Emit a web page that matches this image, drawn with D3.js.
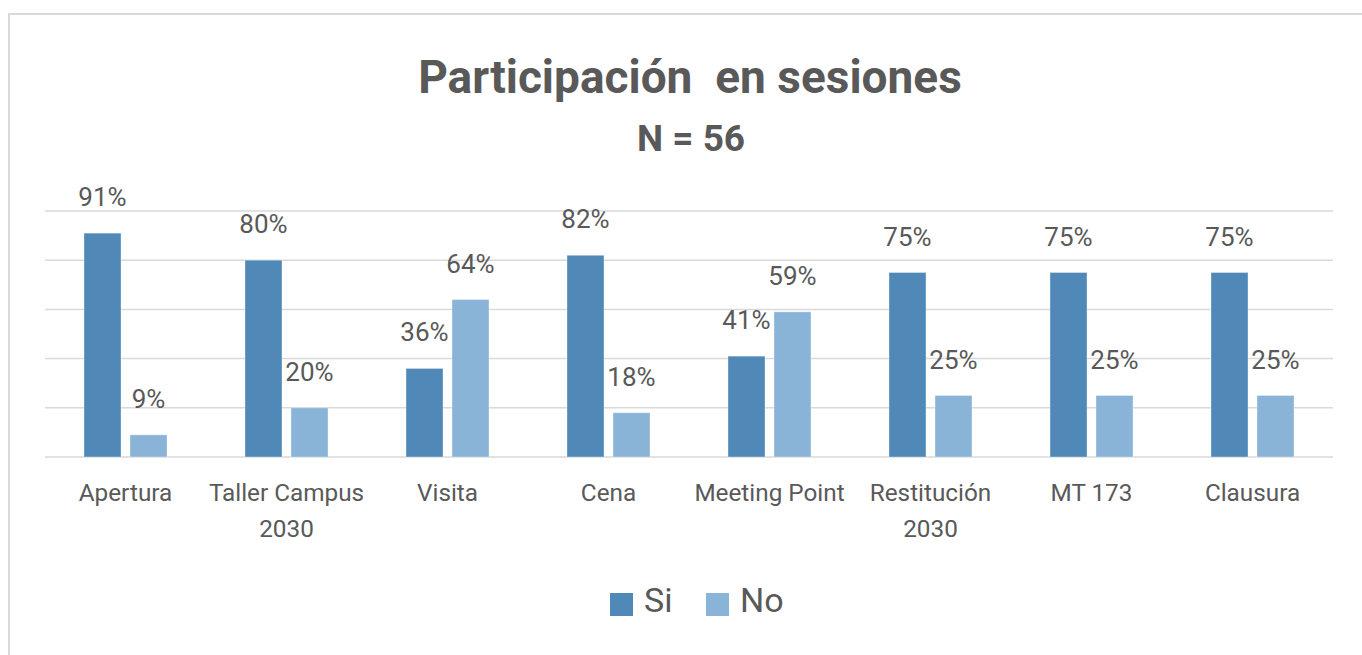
<!DOCTYPE html>
<html><head><meta charset="utf-8">
<script src="https://cdn.jsdelivr.net/npm/d3@7"></script>
<style>html,body{margin:0;padding:0;background:#fff;overflow:hidden}text{font-family:Roboto,"Noto Sans",sans-serif;white-space:pre}</style>
</head><body>
<svg id="c" width="1362" height="655"></svg>
<script>
const categories = ["Apertura","Taller Campus 2030","Visita","Cena","Meeting Point","Restitución 2030","MT 173","Clausura"];
const series = ["Si","No"];
const siValues = [0.91,0.80,0.36,0.82,0.41,0.75,0.75,0.75];
const noValues = [0.09,0.20,0.64,0.18,0.59,0.25,0.25,0.25];
const yTicks = [0,0.2,0.4,0.6,0.8,1.0];
const colors = {Si:"#5089b8", No:"#8ab3d8"};
const title = "Participación  en sesiones";
const subtitle = "N = 56";

const svg = d3.select("#c");
const textColor = "#595959";

svg.append("rect").attr("x",9).attr("y",14).attr("width",1500).attr("height",800)
  .attr("fill","#fff").attr("stroke","#d9d9d9").attr("stroke-width",2);

const x = d3.scaleBand().domain(categories).range([45,1333]).paddingInner(0).paddingOuter(0);
const xi = d3.scaleBand().domain(series).range([0,x.bandwidth()]).paddingInner(0.196).paddingOuter(0.848);
const y = d3.scaleLinear().domain([0,1]).range([457,211]);

svg.append("g").selectAll("line").data(yTicks).join("line")
  .attr("x1",45).attr("x2",1333).attr("y1",d=>y(d)).attr("y2",d=>y(d))
  .attr("stroke","#d9d9d9").attr("stroke-width",1.5);

const data = categories.map((c,i)=>({cat:c, vals:[{s:"Si",v:siValues[i]},{s:"No",v:noValues[i]}]}));

const g = svg.append("g").selectAll("g").data(data).join("g")
  .attr("transform",d=>`translate(${x(d.cat)},0)`);
g.selectAll("rect").data(d=>d.vals).join("rect")
  .attr("x",d=>xi(d.s)).attr("width",xi.bandwidth())
  .attr("y",d=>y(d.v)).attr("height",d=>y(0)-y(d.v))
  .attr("fill",d=>colors[d.s]).attr("stroke","#ffffff").attr("stroke-opacity",0.35).attr("stroke-width",1);
g.selectAll("text.lbl").data(d=>d.vals).join("text").attr("class","lbl")
  .attr("x",d=>xi(d.s)+xi.bandwidth()/2).attr("y",d=>y(d.v)-27)
  .attr("text-anchor","middle").attr("font-size",26).attr("fill",textColor)
  .text(d=>Math.round(d.v*100)+"%");

const xAxis = svg.append("g");
categories.forEach(c=>{
  const cx = x(c)+x.bandwidth()/2;
  const t = xAxis.append("text").attr("x",cx).attr("y",501)
    .attr("text-anchor","middle").attr("font-size",24.3).attr("fill",textColor);
  const words = c.split(" ");
  let line = [];
  let tspan = t.append("tspan").attr("x",cx).attr("dy",0);
  words.forEach(w=>{
    line.push(w);
    tspan.text(line.join(" "));
    if (tspan.node().getComputedTextLength() > x.bandwidth()-4 && line.length>1){
      line.pop(); tspan.text(line.join(" "));
      line=[w];
      tspan = t.append("tspan").attr("x",cx).attr("dy",36).text(w);
    }
  });
});

svg.append("text").attr("x",690).attr("y",93).attr("text-anchor","middle")
  .attr("font-size",46).attr("font-weight","bold").attr("fill",textColor).text(title);
svg.append("text").attr("x",691).attr("y",151).attr("text-anchor","middle")
  .attr("font-size",37).attr("font-weight","bold").attr("fill",textColor).text(subtitle);

const legendX = [610,706];
const lg = svg.append("g").selectAll("g").data(series).join("g")
  .attr("transform",(d,i)=>`translate(${legendX[i]},593)`);
lg.append("rect").attr("width",23).attr("height",23).attr("fill",d=>colors[d]);
lg.append("text").attr("x",34).attr("y",19).attr("font-size",34).attr("fill",textColor).text(d=>d);
</script>
</body></html>
